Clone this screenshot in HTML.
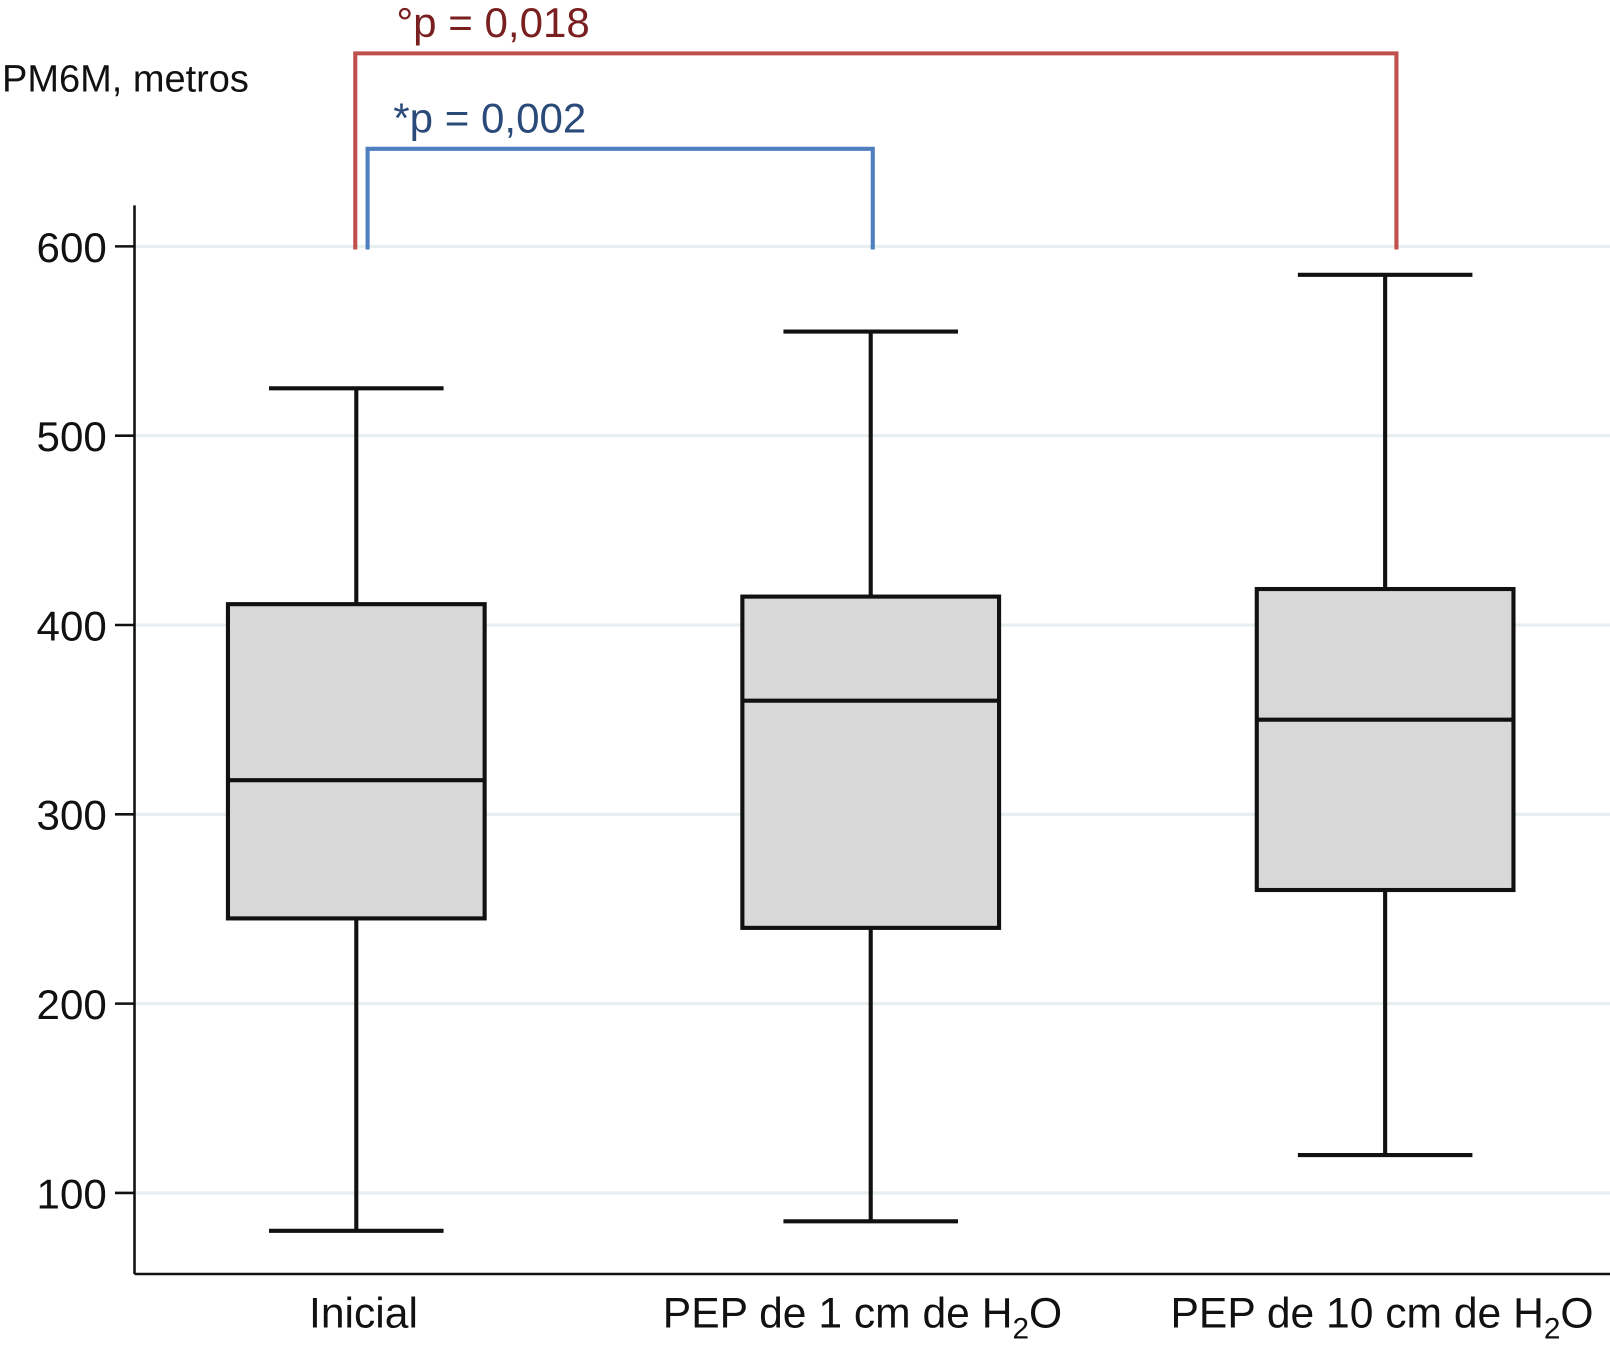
<!DOCTYPE html>
<html><head><meta charset="utf-8"><style>html,body{margin:0;padding:0;background:#fff}svg{display:block}</style></head>
<body>
<svg id="chart" width="1610" height="1351" viewBox="0 0 1568 1316" preserveAspectRatio="none" font-family="'Liberation Sans', sans-serif">
<text x="2" y="89" font-size="37" fill="#111">PM6M, metros</text>
<g id="grid"></g><g id="boxes"></g>
<line x1="131" y1="200" x2="131" y2="1241" stroke="#111" stroke-width="2.5"/>
<line x1="131" y1="1241" x2="1568" y2="1241" stroke="#111" stroke-width="2.5"/>
<g id="xl" font-size="41.5" fill="#111" text-anchor="middle">
<text x="354" y="1293">Inicial</text>
<text x="840" y="1293">PEP de 1 cm de H<tspan font-size="29" dy="11">2</tspan><tspan dy="-11">O</tspan></text>
<text x="1346" y="1293">PEP de 10 cm de H<tspan font-size="29" dy="11">2</tspan><tspan dy="-11">O</tspan></text>
</g>
<path d="M346 243 V52 H1360 V243" fill="none" stroke="#c0504d" stroke-width="4"/>
<path d="M358 243 V145 H850 V243" fill="none" stroke="#4f7fbf" stroke-width="4"/>
<text x="386" y="36" font-size="41" fill="#7a1f1f">°p = 0,018</text>
<text x="383" y="129" font-size="41" fill="#2a4a7a">*p = 0,002</text>
</svg>
<script>
const categories=["Inicial","PEP 1","PEP 10"];
const mins=[80,85,120];
const q1s=[245,240,260];
const medians=[318,360,350];
const q3s=[411,415,419];
const maxs=[525,555,585];
const ticks=[100,200,300,400,500,600];
const NS="http://www.w3.org/2000/svg";
const y=v=>240+(600-v)*1.844;
const x=i=>347+i*501;
function mk(t,a,p){const e=document.createElementNS(NS,t);for(const k in a)e.setAttribute(k,a[k]);p.appendChild(e);return e;}
const grid=document.getElementById('grid'),boxes=document.getElementById('boxes');
ticks.forEach(t=>{
 const g=mk('line',{x1:131,x2:1568,y1:y(t),y2:y(t),stroke:'#e6eef0','stroke-width':3},grid);
 
 
 const tk=mk('line',{x1:112,x2:131,y1:y(t),y2:y(t),stroke:'#111','stroke-width':2.5},grid);
 
 
 const l=mk('text',{x:104,y:y(t)+15,'font-size':41,'text-anchor':'end',fill:'#111'},grid);
 l.textContent=t;
 
 
});
categories.forEach((c,i)=>{
 const cx=x(i),s={stroke:'#111','stroke-width':4};
 const g=mk('g',{},boxes);
 
 
 mk('line',Object.assign({x1:cx,x2:cx,y1:y(maxs[i]),y2:y(q3s[i])},s),g);
 mk('line',Object.assign({x1:cx,x2:cx,y1:y(q1s[i]),y2:y(mins[i])},s),g);
 mk('line',Object.assign({x1:cx-85,x2:cx+85,y1:y(maxs[i]),y2:y(maxs[i])},s),g);
 mk('line',Object.assign({x1:cx-85,x2:cx+85,y1:y(mins[i]),y2:y(mins[i])},s),g);
 mk('rect',Object.assign({x:cx-125,width:250,y:y(q3s[i]),height:y(q1s[i])-y(q3s[i]),fill:'#d8d8d8'},s),g);
 mk('line',Object.assign({x1:cx-125,x2:cx+125,y1:y(medians[i]),y2:y(medians[i])},s),g);
});
</script>
</body></html>
